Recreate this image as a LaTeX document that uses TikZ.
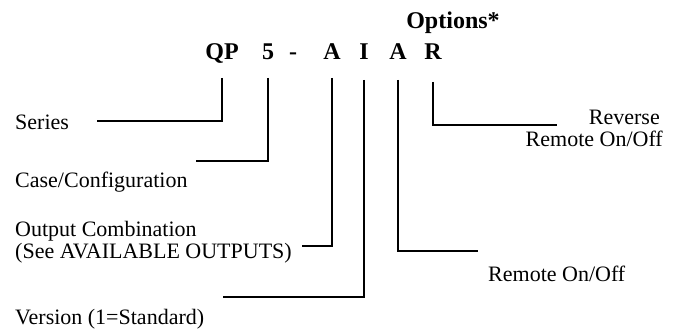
\documentclass[tikz,border=0pt]{standalone}
\usepackage{fontspec}
\setmainfont{Liberation Serif}
\begin{document}
\begin{tikzpicture}[x=1pt,y=-1pt,
  lbl/.style={inner sep=0pt, font=\fontsize{22}{22}\selectfont, anchor=base west},
  code/.style={inner sep=0pt, font=\fontsize{24}{24}\selectfont\bfseries, anchor=base},
  lead/.style={line width=1.8pt}]
\useasboundingbox (0,0) rectangle (678,336);
% code letters
\node[code] (opt) at (453,29) {Options*};
\node[code] (qp) at (222,60) {QP};
\node[code] (five) at (268,60) {5};
\node[code] (dash) at (293,60) {-};
\node[code] (a1) at (332,60) {A};
\node[code] (i1) at (364,60) {I};
\node[code] (a2) at (398,60) {A};
\node[code] (r1) at (433,60) {R};
% labels
\node[lbl] (series) at (15,130) {Series};
\node[lbl] (case) at (15,188) {Case/Configuration};
\node[lbl] (out1) at (15,237) {Output Combination};
\node[lbl] (out2) at (15,259) {(See AVAILABLE OUTPUTS)};
\node[lbl] (ver) at (15,325) {Version (1=Standard)};
\node[lbl, anchor=base east] (rev1) at (660,125) {Reverse};
\node[lbl, anchor=base east] (rev2) at (663,147) {Remote On/Off};
\node[lbl] (rem) at (488,282) {Remote On/Off};
% free ends of leaders
\coordinate (eSeries) at (97,121);
\coordinate (eCase) at (196,161);
\coordinate (eOut) at (302,246);
\coordinate (eVer) at (223,297);
\coordinate (eRem) at (478,251);
\coordinate (eRev) at (557,125);
% leaders
\draw[lead] ([yshift=-18pt]qp.base) |- (eSeries);
\draw[lead] ([yshift=-18pt]five.base) |- (eCase);
\draw[lead] ([yshift=-18pt]a1.base) |- (eOut);
\draw[lead] ([yshift=-20pt]i1.base) |- (eVer);
\draw[lead] ([yshift=-20pt]a2.base) |- (eRem);
\draw[lead] ([yshift=-22pt]r1.base) |- (eRev);
\end{tikzpicture}
\end{document}
